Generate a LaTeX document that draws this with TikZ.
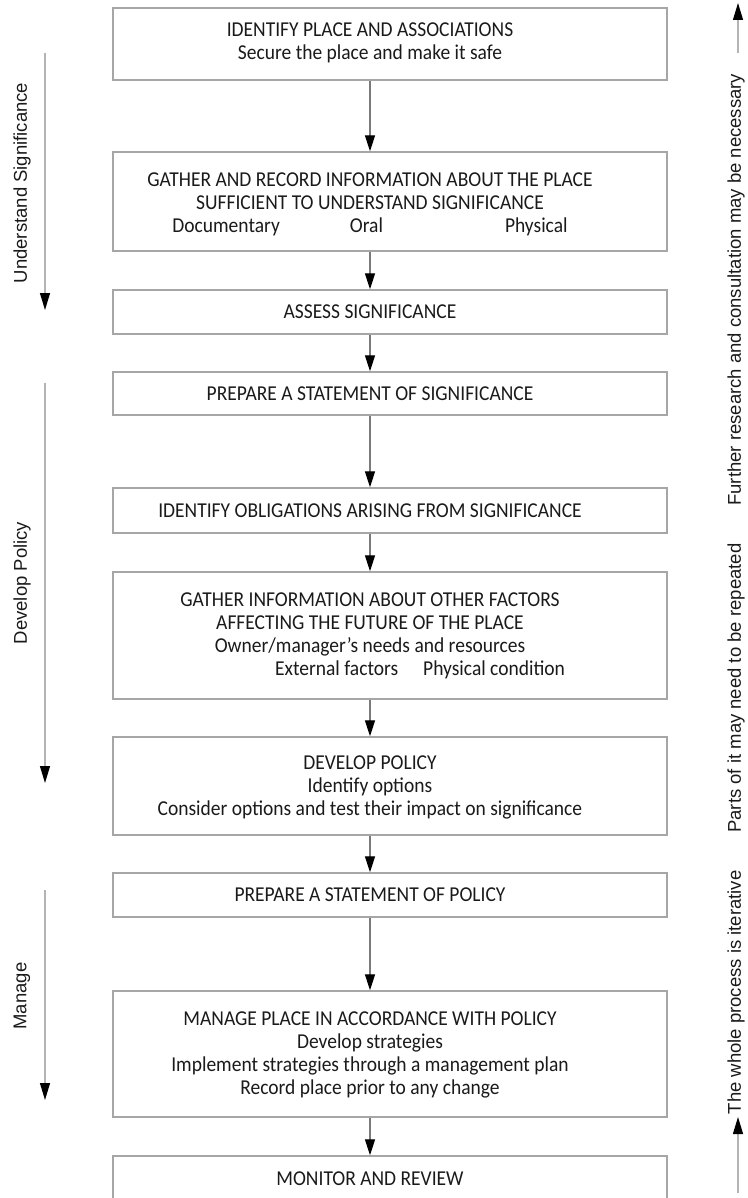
\documentclass[tikz,border=0pt]{standalone}
\usepackage{fontspec}
\usetikzlibrary{arrows.meta, positioning}
\newfontfamily\boxfont[FakeStretch=0.92]{Carlito}
\newfontfamily\sidefont{Liberation Sans}
\definecolor{boxgray}{HTML}{A6A6A6}
\definecolor{flowgray}{HTML}{7A7A7A}
\definecolor{sidegray}{HTML}{B4B4B4}
\definecolor{inkgray}{HTML}{1A1A1A}

\begin{document}
\begin{tikzpicture}[x=1pt, y=-1pt,
  stage/.style={draw=boxgray, line width=1.4pt, minimum width=554pt, inner sep=0pt},
  stagetext/.style={font=\boxfont\fontsize{21.2}{23}\selectfont, text=inkgray, align=center, inner sep=0pt},
  flow/.style={draw=flowgray, line width=1.3pt, -{Triangle[length=16pt, width=10pt, color=black]}},
  phase/.style={font=\sidefont\fontsize{18.5}{20}\selectfont, text=inkgray, rotate=90, inner sep=0pt},
  phasearrow/.style={draw=sidegray, line width=1.2pt, -{Triangle[length=17pt, width=10pt, color=black]}}]
 \useasboundingbox (0,0) rectangle (747,1198);
 % boxes
 \node[stage, minimum height=72pt] (B1) at (390,44) {};
 \node[stage, minimum height=99pt] (B2) at (390,201.5) {};
 \node[stage, minimum height=44pt] (B3) at (390,312) {};
 \node[stage, minimum height=43pt] (B4) at (390,393.5) {};
 \node[stage, minimum height=45pt] (B5) at (390,510.5) {};
 \node[stage, minimum height=127pt] (B6) at (390,635.5) {};
 \node[stage, minimum height=98pt] (B7) at (390,786) {};
 \node[stage, minimum height=44pt] (B8) at (390,895) {};
 \node[stage, minimum height=126pt] (B9) at (390,1054) {};
 \node[stage, minimum height=50pt] (B10) at (390,1181) {};
 % box texts
 \node[stagetext] (S1) at (370,43) {IDENTIFY PLACE AND ASSOCIATIONS\\Secure the place and make it safe};
 \node[stagetext] (S2) at (370,204) {GATHER AND RECORD INFORMATION ABOUT THE PLACE\\SUFFICIENT TO UNDERSTAND SIGNIFICANCE\\Documentary\hspace{70pt}Oral\hspace{122pt}Physical};
 \node[stagetext] (S3) at (370,312) {ASSESS SIGNIFICANCE};
 \node[stagetext] (S4) at (370,393.5) {PREPARE A STATEMENT OF SIGNIFICANCE};
 \node[stagetext] (S5) at (370,510.5) {IDENTIFY OBLIGATIONS ARISING FROM SIGNIFICANCE};
 \node[stagetext] (S6) at (370,636) {GATHER INFORMATION ABOUT OTHER FACTORS\\AFFECTING THE FUTURE OF THE PLACE\\Owner/manager’s needs and resources\\\hspace*{100pt}External factors\hspace{25pt}Physical condition};
 \node[stagetext] (S7) at (370,787) {DEVELOP POLICY\\Identify options\\Consider options and test their impact on significance};
 \node[stagetext] (S8) at (370,895) {PREPARE A STATEMENT OF POLICY};
 \node[stagetext] (S9) at (370,1055) {MANAGE PLACE IN ACCORDANCE WITH POLICY\\Develop strategies\\Implement strategies through a management plan\\Record place prior to any change};
 \node[stagetext] (S10) at (370,1179) {MONITOR AND REVIEW};
 % flow arrows
 \draw[flow] (B1.south -| S1) -- (B2.north -| S2);
 \draw[flow] (B2.south -| S2) -- (B3.north -| S3);
 \draw[flow] (B3.south -| S3) -- (B4.north -| S4);
 \draw[flow] (B4.south -| S4) -- (B5.north -| S5);
 \draw[flow] (B5.south -| S5) -- (B6.north -| S6);
 \draw[flow] (B6.south -| S6) -- (B7.north -| S7);
 \draw[flow] (B7.south -| S7) -- (B8.north -| S8);
 \draw[flow] (B8.south -| S8) -- (B9.north -| S9);
 \draw[flow] (B9.south -| S9) -- (B10.north -| S10);
 % phases on the left
 \node[phase] (understand) at (22,183) {Understand Significance};
 \node[phase] (develop) at (22,583) {Develop Policy};
 \node[phase] (manage) at (22,996) {Manage};
 \coordinate (understandA) at (45,53);
 \coordinate (understandB) at (45,310);
 \coordinate (developA) at (45,383);
 \coordinate (developB) at (45,783);
 \coordinate (manageA) at (45,890);
 \coordinate (manageB) at (45,1100);
 \draw[phasearrow] (understandA) -- (understandB);
 \draw[phasearrow] (developA) -- (developB);
 \draw[phasearrow] (manageA) -- (manageB);
 % iteration note on the right
 \node[phase] (iterate) at (736,594) {The whole process is iterative\hspace{38pt}Parts of it may need to be repeated\hspace{38pt}Further research and consultation may be necessary};
 \coordinate (iterateA) at (738,53);
 \coordinate (iterateB) at (738,3);
 \coordinate (iterateC) at (738,1193);
 \coordinate (iterateD) at (738,1117);
 \draw[phasearrow] (iterateA) -- (iterateB);
 \draw[phasearrow] (iterateC) -- (iterateD);
\end{tikzpicture}
\end{document}
